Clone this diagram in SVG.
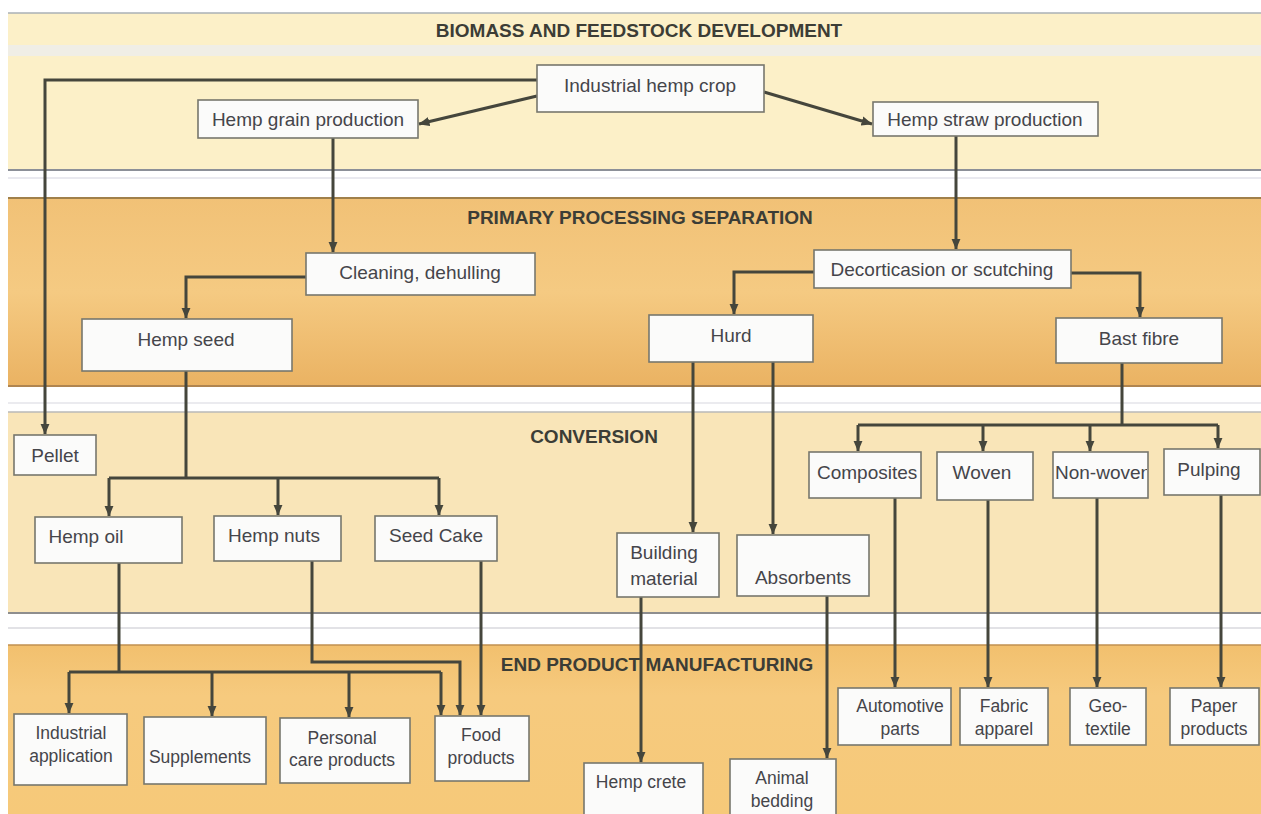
<svg xmlns="http://www.w3.org/2000/svg" width="1261" height="814" viewBox="0 0 1261 814">
<style>
.node rect{fill:#fbfbfa;stroke:#77776d;stroke-width:1.6}
.node text{font-family:"Liberation Sans",Arial,sans-serif;font-size:19px;fill:#45454a;text-anchor:middle}
.node.sm text{font-size:17.5px}
.title{font-family:"Liberation Sans",Arial,sans-serif;font-size:19px;font-weight:bold;fill:#3c3d36;text-anchor:middle}
#connectors path{fill:none;stroke:#45463c;stroke-width:3}
#connectors path.a{marker-end:url(#ah)}
</style>
<defs>
<marker id="ah" viewBox="0 0 10 10" refX="9.5" refY="5" markerWidth="11" markerHeight="11" markerUnits="userSpaceOnUse" orient="auto">
<path d="M0,0.8 L10,5 L0,9.2 z" fill="#45463c"/>
</marker>
<linearGradient id="g2" x1="0" y1="0" x2="0" y2="1">
<stop offset="0" stop-color="#f1c176"/><stop offset="0.5" stop-color="#f5ca82"/><stop offset="1" stop-color="#eab262"/>
</linearGradient>
<linearGradient id="g4" x1="0" y1="0" x2="0" y2="1">
<stop offset="0" stop-color="#f2c06e"/><stop offset="0.3" stop-color="#f6ca7e"/><stop offset="1" stop-color="#f6c979"/>
</linearGradient>
<clipPath id="cComp"><rect x="809" y="452" width="110" height="46"/></clipPath>
<clipPath id="cNon"><rect x="1053" y="452" width="94" height="46"/></clipPath>
</defs>
<rect x="0" y="0" width="1261" height="814" fill="#ffffff"/>
<g id="bands">
<rect x="8" y="13" width="1253" height="157" fill="#fcf0c8"/>
<rect x="8" y="45" width="1253" height="11" fill="#f0eee6"/>
<line x1="8" y1="13" x2="1261" y2="13" stroke="#aab0b6" stroke-width="1.5"/>
<line x1="8" y1="170" x2="1261" y2="170" stroke="#8c9098" stroke-width="2"/>
<line x1="8" y1="178" x2="1261" y2="178" stroke="#e2e2ea" stroke-width="1.5"/>
<rect x="8" y="197" width="1253" height="190" fill="url(#g2)"/>
<line x1="8" y1="198" x2="1261" y2="198" stroke="#a0804a" stroke-width="2"/>
<line x1="8" y1="386" x2="1261" y2="386" stroke="#b08550" stroke-width="2"/>
<line x1="8" y1="403" x2="1261" y2="403" stroke="#e4e4ea" stroke-width="1.5"/>
<rect x="8" y="412" width="1253" height="201" fill="#f9e5b8"/>
<line x1="8" y1="412" x2="1261" y2="412" stroke="#b8b8b8" stroke-width="1.5"/>
<line x1="8" y1="613" x2="1261" y2="613" stroke="#8e8e8e" stroke-width="2"/>
<line x1="8" y1="628" x2="1261" y2="628" stroke="#d8d8de" stroke-width="1.5"/>
<rect x="8" y="645" width="1253" height="169" fill="url(#g4)"/>
<line x1="8" y1="645" x2="1261" y2="645" stroke="#c09050" stroke-width="1.5"/>
</g>
<g id="titles">
<text class="title" x="639" y="37">BIOMASS AND FEEDSTOCK DEVELOPMENT</text>
<text class="title" x="640" y="224">PRIMARY PROCESSING SEPARATION</text>
<text class="title" x="594" y="443">CONVERSION</text>
<text class="title" x="657" y="671">END PRODUCT MANUFACTURING</text>
</g>
<g id="connectors">
<path class="a" d="M537,80 H45 V434"/>
<path class="a" d="M537,96 L419,124"/>
<path class="a" d="M764,92 L872,124"/>
<path class="a" d="M333,138 V252"/>
<path class="a" d="M956,136 V249"/>
<path class="a" d="M306,277 H186 V318"/>
<path class="a" d="M814,272 H734 V314"/>
<path class="a" d="M1071,273 H1140 V317"/>
<path d="M186,371 V478 M109,478 H439"/>
<path class="a" d="M109,478 V516"/>
<path class="a" d="M278,478 V515"/>
<path class="a" d="M439,478 V515"/>
<path class="a" d="M693,362 V532"/>
<path class="a" d="M773,362 V534"/>
<path d="M1122,363 V425 M858,425 H1218"/>
<path class="a" d="M858,425 V451"/>
<path class="a" d="M983,425 V451"/>
<path class="a" d="M1090,425 V451"/>
<path class="a" d="M1218,425 V448"/>
<path d="M119,563 V672 M69,672 H441"/>
<path class="a" d="M69,672 V713"/>
<path class="a" d="M212,672 V716"/>
<path class="a" d="M349,672 V717"/>
<path class="a" d="M441,672 V715"/>
<path class="a" d="M312,561 V662 H460 V715"/>
<path class="a" d="M481,561 V715"/>
<path class="a" d="M641,597 V762"/>
<path class="a" d="M827,596 V758"/>
<path class="a" d="M895,498 V687"/>
<path class="a" d="M988,500 V687"/>
<path class="a" d="M1097,498 V687"/>
<path class="a" d="M1221,495 V687"/>
</g>
<g id="n-industrial-hemp-crop" class="node"><rect x="537" y="65" width="227" height="47"/><text x="650" y="92">Industrial hemp crop</text></g>
<g id="n-hemp-grain" class="node"><rect x="198" y="100" width="220" height="38"/><text x="308" y="126">Hemp grain production</text></g>
<g id="n-hemp-straw" class="node"><rect x="873" y="102" width="225" height="34"/><text x="985" y="126">Hemp straw production</text></g>
<g id="n-cleaning" class="node"><rect x="306" y="253" width="229" height="42"/><text x="420" y="279">Cleaning, dehulling</text></g>
<g id="n-hemp-seed" class="node"><rect x="82" y="319" width="210" height="52"/><text x="186" y="346">Hemp seed</text></g>
<g id="n-decortication" class="node"><rect x="814" y="250" width="257" height="38"/><text x="942" y="276">Decorticasion or scutching</text></g>
<g id="n-hurd" class="node"><rect x="649" y="315" width="164" height="47"/><text x="731" y="342">Hurd</text></g>
<g id="n-bast" class="node"><rect x="1056" y="318" width="166" height="45"/><text x="1139" y="345">Bast fibre</text></g>
<g id="n-pellet" class="node"><rect x="14" y="435" width="82" height="40"/><text x="55" y="462">Pellet</text></g>
<g id="n-hemp-oil" class="node"><rect x="35" y="517" width="147" height="46"/><text x="86" y="543">Hemp oil</text></g>
<g id="n-hemp-nuts" class="node"><rect x="214" y="516" width="127" height="45"/><text x="274" y="542">Hemp nuts</text></g>
<g id="n-seed-cake" class="node"><rect x="375" y="516" width="122" height="45"/><text x="436" y="542">Seed Cake</text></g>
<g id="n-building" class="node"><rect x="617" y="533" width="102" height="64"/><text x="664" y="559">Building</text><text x="664" y="585">material</text></g>
<g id="n-absorbents" class="node"><rect x="737" y="535" width="132" height="61"/><text x="803" y="584">Absorbents</text></g>
<g id="n-composites" class="node"><rect x="809" y="452" width="112" height="46"/><text x="817" y="479" style="text-anchor:start" clip-path="url(#cComp)">Composites</text></g>
<g id="n-woven" class="node"><rect x="937" y="452" width="96" height="48"/><text x="982" y="479">Woven</text></g>
<g id="n-non-woven" class="node"><rect x="1053" y="452" width="95" height="46"/><text x="1055" y="479" style="text-anchor:start" clip-path="url(#cNon)">Non-woven</text></g>
<g id="n-pulping" class="node"><rect x="1164" y="449" width="96" height="46"/><text x="1209" y="476">Pulping</text></g>
<g id="n-industrial-application" class="node sm"><rect x="14" y="714" width="113" height="71"/><text x="71" y="739">Industrial</text><text x="71" y="762">application</text></g>
<g id="n-supplements" class="node sm"><rect x="144" y="717" width="122" height="67"/><text x="200" y="763">Supplements</text></g>
<g id="n-personal-care" class="node sm"><rect x="280" y="718" width="130" height="65"/><text x="342" y="744">Personal</text><text x="342" y="766">care products</text></g>
<g id="n-food" class="node sm"><rect x="435" y="716" width="94" height="65"/><text x="481" y="741">Food</text><text x="481" y="764">products</text></g>
<g id="n-hemp-crete" class="node sm"><rect x="584" y="763" width="119" height="60"/><text x="641" y="788">Hemp crete</text></g>
<g id="n-animal-bedding" class="node sm"><rect x="730" y="759" width="106" height="64"/><text x="782" y="784">Animal</text><text x="782" y="807">bedding</text></g>
<g id="n-automotive" class="node sm"><rect x="838" y="688" width="113" height="57"/><text x="900" y="712">Automotive</text><text x="900" y="735">parts</text></g>
<g id="n-fabric" class="node sm"><rect x="960" y="688" width="88" height="57"/><text x="1004" y="712">Fabric</text><text x="1004" y="735">apparel</text></g>
<g id="n-geo" class="node sm"><rect x="1070" y="688" width="76" height="57"/><text x="1108" y="712">Geo-</text><text x="1108" y="735">textile</text></g>
<g id="n-paper" class="node sm"><rect x="1170" y="688" width="89" height="57"/><text x="1214" y="712">Paper</text><text x="1214" y="735">products</text></g>
</svg>
